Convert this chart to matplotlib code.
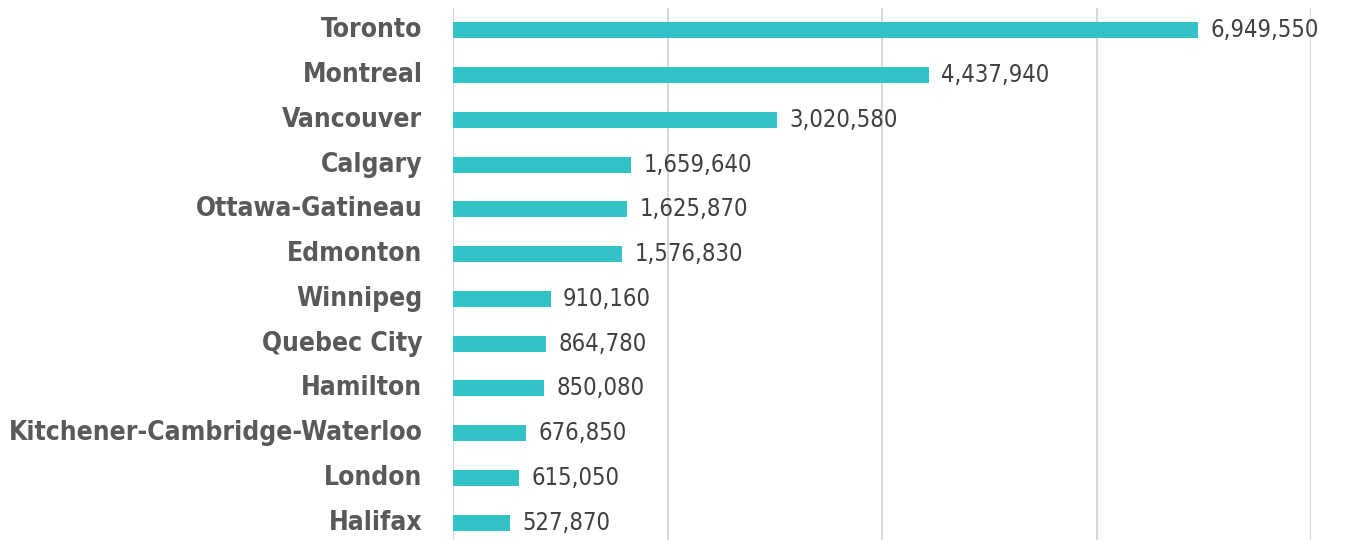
import matplotlib.pyplot as plt
from matplotlib.ticker import MultipleLocator

cities = ["Toronto", "Montreal", "Vancouver", "Calgary", "Ottawa-Gatineau",
          "Edmonton", "Winnipeg", "Quebec City", "Hamilton",
          "Kitchener-Cambridge-Waterloo", "London", "Halifax"]
population = [6949550, 4437940, 3020580, 1659640, 1625870,
              1576830, 910160, 864780, 850080, 676850, 615050, 527870]

bar_color = "#33C3C6"

fig = plt.figure(figsize=(13.46, 5.40), dpi=100)
ax = fig.add_axes([453 / 1346, -5 / 540, 858 / 1346, 537 / 540])

ypos = list(range(len(cities)))
ax.barh(ypos, population, height=0.36, color=bar_color, zorder=2)

for y, v in zip(ypos, population):
    ax.annotate(f"{v:,}", (v, y), xytext=(9, 0), textcoords="offset points",
                va="center", ha="left", fontsize=17, color="#404040",
                family="DejaVu Sans", fontstretch="condensed")

ax.set_xlim(0, 8000000)
ax.set_ylim(len(cities) - 0.5, -0.5)
ax.xaxis.set_major_locator(MultipleLocator(2000000))
ax.grid(axis="x", color="#D9D9D9", linewidth=1.5, zorder=0)
ax.set_xticklabels([])
ax.tick_params(length=0)
ax.tick_params(axis="y", pad=22)

ax.set_yticks(ypos)
ax.set_yticklabels(cities, fontsize=19, fontweight="bold", color="#595959",
                   family="DejaVu Sans", fontstretch="condensed",
                   va="center")

for side in ["top", "right", "bottom", "left"]:
    ax.spines[side].set_visible(False)

fig.savefig("out.png", dpi=100)
